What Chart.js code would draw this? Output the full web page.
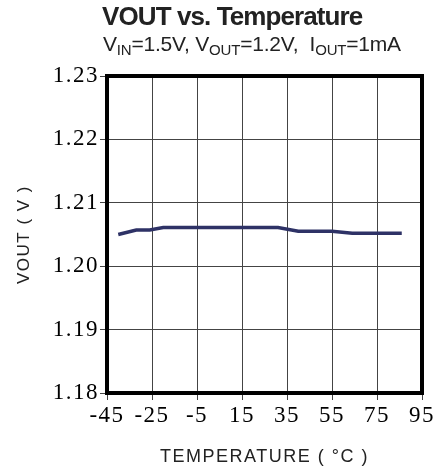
<!DOCTYPE html>
<html>
<head>
<meta charset="utf-8">
<script src="https://cdn.jsdelivr.net/npm/chart.js@4"></script>
<style>
  body { margin: 0; background: #fff; }
  #wrap { position: relative; width: 446px; height: 472px; }
  #title { position: absolute; left: 102px; top: 1px; font: bold 26px "Liberation Sans", Arial, sans-serif; letter-spacing: -0.9px; color: #222; }
  #sub { position: absolute; left: 103px; top: 32px; font: 21px "Liberation Sans", Arial, sans-serif; letter-spacing: -0.2px; color: #222; white-space: pre; }
  #sub sub { font-size: 15px; vertical-align: -4px; }
</style>
</head>
<body>
<div id="wrap">
  <canvas id="chart" width="446" height="472"></canvas>
  <div id="title">VOUT vs. Temperature</div>
  <div id="sub">V<sub>IN</sub>=1.5V, V<sub>OUT</sub>=1.2V,  I<sub>OUT</sub>=1mA</div>
</div>
<script>
// data
const temps = [-40, -32, -26, -20, 0, 20, 31, 40, 55, 64, 86];
const vout = [1.2050, 1.2057, 1.2057, 1.2061, 1.2061, 1.2061, 1.2061, 1.2055, 1.2055, 1.2052, 1.2052];
const xTicks = [-45, -25, -5, 15, 35, 55, 75, 95];
const yTicks = [1.18, 1.19, 1.20, 1.21, 1.22, 1.23];

const ctx = document.getElementById('chart');

// thick frame around the plot area, plus wider letter spacing for the labels
const frame = {
    id: 'frame',
    beforeDraw(chart) {
        chart.ctx.letterSpacing = '1.5px';
    },
    afterDraw(chart) {
        const a = chart.chartArea;
        const c = chart.ctx;
        c.save();
        c.strokeStyle = '#000';
        c.lineWidth = 4;
        c.strokeRect(a.left, a.top, a.right - a.left, a.bottom - a.top);
        c.restore();
    }
};

new Chart(ctx, {
    type: 'line',
    data: {
        datasets: [{
            data: temps.map((t, i) => ({ x: t, y: vout[i] })),
            borderColor: '#2e3266',
            borderWidth: 3.5,
            pointRadius: 0,
            tension: 0
        }]
    },
    options: {
        responsive: false,
        animation: false,
        layout: { padding: { top: 76, right: 24, left: 0, bottom: 0 } },
        plugins: { legend: { display: false }, tooltip: { enabled: false } },
        scales: {
            x: {
                type: 'linear',
                min: -45,
                max: 95,
                afterBuildTicks: s => { s.ticks = xTicks.map(v => ({ value: v })); },
                afterFit: s => { s.height = 79; },
                ticks: {
                    color: '#000',
                    padding: 2,
                    maxRotation: 0,
                    font: { family: '"Liberation Serif", serif', size: 23 },
                    callback: v => String(v)
                },
                grid: { color: '#444', lineWidth: 1, tickLength: 7 },
                border: { display: false },
                title: {
                    display: true,
                    text: 'TEMPERATURE ( °C )',
                    color: '#222',
                    padding: { top: 3 },
                    font: { family: '"Liberation Sans", Arial, sans-serif', size: 18 }
                }
            },
            y: {
                min: 1.18,
                max: 1.23,
                afterBuildTicks: s => { s.ticks = yTicks.map(v => ({ value: v })); },
                afterFit: s => { s.width = 107; },
                ticks: {
                    color: '#000',
                    padding: 1,
                    font: { family: '"Liberation Serif", serif', size: 23 },
                    callback: v => v.toFixed(2)
                },
                grid: { color: '#444', lineWidth: 1, tickLength: 7 },
                border: { display: false },
                title: {
                    display: true,
                    text: 'VOUT ( V )',
                    color: '#222',
                    padding: { bottom: 0, top: 14 },
                    font: { family: '"Liberation Sans", Arial, sans-serif', size: 17 }
                }
            }
        }
    },
    plugins: [frame]
});
</script>
</body>
</html>
